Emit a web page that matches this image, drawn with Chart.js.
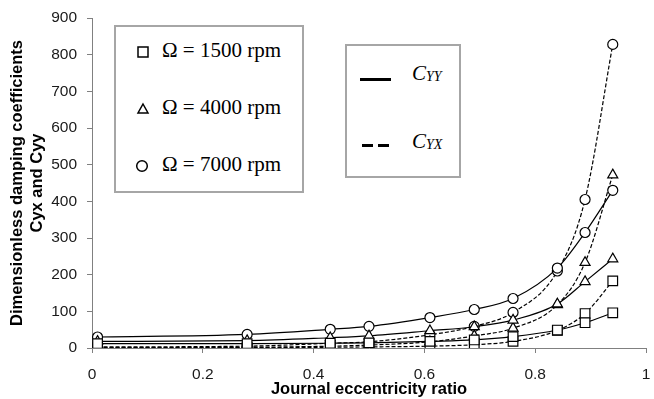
<!DOCTYPE html>
<html>
<head>
<meta charset="utf-8">
<script src="https://cdn.jsdelivr.net/npm/chart.js@4"></script>
<style>
  body { margin: 0; background: #fff; }
  #wrap { position: relative; width: 654px; height: 399px; }
  .box { position: absolute; border: 2px solid #a6a6a6; background: #fff; box-sizing: border-box; }
  .row { position: absolute; font-family: "Liberation Serif", "Times New Roman", serif; font-size: 21px; line-height: 21px; color: #000; white-space: nowrap; }
  .cap { font-style: italic; }
  .cap sub { font-size: 14px; vertical-align: -1px; }
  .stroke { position: absolute; height: 3px; background: #000; }
  svg.mk { position: absolute; overflow: visible; }
</style>
</head>
<body>
<div id="wrap">
  <canvas id="dampingChart" width="654" height="399"></canvas>

  <div class="box" style="left:114px; top:25px; width:190px; height:168px;"></div>
  <svg class="mk" style="left:137px; top:46px;" width="12" height="12"><rect x="1" y="1" width="10" height="10" fill="#fff" stroke="#000" stroke-width="1.5"/></svg>
  <div class="row" style="left:162px; top:40px;">Ω = 1500 rpm</div>
  <svg class="mk" style="left:137px; top:103px;" width="12" height="12"><polygon points="6,1 11,10 1,10" fill="#fff" stroke="#000" stroke-width="1.5"/></svg>
  <div class="row" style="left:162px; top:97px;">Ω = 4000 rpm</div>
  <svg class="mk" style="left:136px; top:160px;" width="12" height="12"><circle cx="6" cy="6" r="5.3" fill="#fff" stroke="#000" stroke-width="1.5"/></svg>
  <div class="row" style="left:162px; top:154px;">Ω = 7000 rpm</div>

  <div class="box" style="left:345px; top:44px; width:116px; height:134px;"></div>
  <div class="stroke" style="left:360px; top:78px; width:31px;"></div>
  <div class="row cap" style="left:412px; top:63px;">C<sub>YY</sub></div>
  <div class="stroke" style="left:362px; top:144px; width:11px;"></div>
  <div class="stroke" style="left:378px; top:144px; width:11px;"></div>
  <div class="row cap" style="left:412px; top:131px;">C<sub>YX</sub></div>
</div>

<script>
// journal eccentricity ratio (x)
const eccRatio = [0.01, 0.28, 0.43, 0.5, 0.61, 0.69, 0.76, 0.84, 0.89, 0.94];

// dimensionless damping Cyy
const cyy1500 = [12, 12, 13, 14, 18, 22, 31, 49, 69, 96];
const cyy4000 = [18, 20, 28, 33, 47, 58, 76, 120, 181, 243];
const cyy7000 = [30, 37, 51, 59, 83, 105, 135, 218, 315, 430];

// dimensionless damping Cyx
const cyx1500 = [0, 1, 2, 3, 5, 9, 18, 48, 94, 183];
const cyx4000 = [1, 2, 5, 8, 17, 33, 54, 118, 233, 472];
const cyx7000 = [3, 5, 13, 17, 36, 59, 97, 210, 405, 828];

const xTickLabels = ['0', '0.2', '0.4', '0.6', '0.8', '1'];
const yTickLabels = ['0', '100', '200', '300', '400', '500', '600', '700', '800', '900'];

const axisGray = '#808080';
const sansFont = '"Liberation Sans", Arial, sans-serif';

function toPoints(ys) {
    return ys.map((y, i) => ({ x: eccRatio[i], y: y }));
}

function series(label, ys, shape, radius, dashed) {
    return {
        label: label,
        data: toPoints(ys),
        borderColor: '#000',
        borderWidth: 1.2,
        borderDash: dashed ? [4, 2] : [],
        cubicInterpolationMode: 'monotone',
        pointStyle: shape,
        pointRadius: radius,
        pointBorderWidth: 1.2,
        pointBorderColor: '#000',
        pointBackgroundColor: '#fff',
        fill: false
    };
}

const ctx = document.getElementById('dampingChart').getContext('2d');
new Chart(ctx, {
    type: 'line',
    data: {
        datasets: [
            series('Cyy 1500 rpm', cyy1500, 'rect', 6.8, false),
            series('Cyy 4000 rpm', cyy4000, 'triangle', 5.8, false),
            series('Cyy 7000 rpm', cyy7000, 'circle', 5, false),
            series('Cyx 1500 rpm', cyx1500, 'rect', 6.8, true),
            series('Cyx 4000 rpm', cyx4000, 'triangle', 5.8, true),
            series('Cyx 7000 rpm', cyx7000, 'circle', 5, true)
        ]
    },
    options: {
        responsive: false,
        animation: false,
        layout: { padding: { top: 18, right: 2, left: 0, bottom: 0 } },
        plugins: {
            legend: { display: false },
            tooltip: { enabled: false }
        },
        scales: {
            x: {
                type: 'linear',
                min: 0,
                max: 1,
                afterFit: (scale) => {
                    scale.height = 51;
                    scale.paddingLeft = 0;
                    scale.paddingRight = 0;
                },
                ticks: {
                    stepSize: 0.2,
                    padding: 12,
                    color: '#1a1a1a',
                    font: { family: sansFont, size: 15.5 },
                    maxRotation: 0,
                    callback: (v, i) => xTickLabels[i]
                },
                grid: { drawOnChartArea: false, tickLength: 5, color: axisGray },
                border: { color: axisGray, width: 1 },
                title: {
                    display: true,
                    text: 'Journal eccentricity ratio',
                    color: '#000',
                    padding: { top: 0, bottom: 0 },
                    font: { family: sansFont, size: 16.5, weight: 'bold' }
                }
            },
            y: {
                min: 0,
                max: 900,
                afterFit: (scale) => {
                    scale.width = 92;
                    scale.paddingTop = 0;
                    scale.paddingBottom = 0;
                },
                ticks: {
                    stepSize: 100,
                    padding: 10,
                    color: '#1a1a1a',
                    font: { family: sansFont, size: 15.5 },
                    callback: (v, i) => yTickLabels[i]
                },
                grid: { drawOnChartArea: false, tickLength: 5, color: axisGray },
                border: { color: axisGray, width: 1 },
                title: {
                    display: true,
                    text: ['Dimensionless damping coefficients', 'Cyx and Cyy'],
                    color: '#000',
                    padding: { top: 8, bottom: 0 },
                    font: { family: sansFont, size: 16.5, weight: 'bold', lineHeight: 1.2 }
                }
            }
        }
    }
});
</script>
</body>
</html>
